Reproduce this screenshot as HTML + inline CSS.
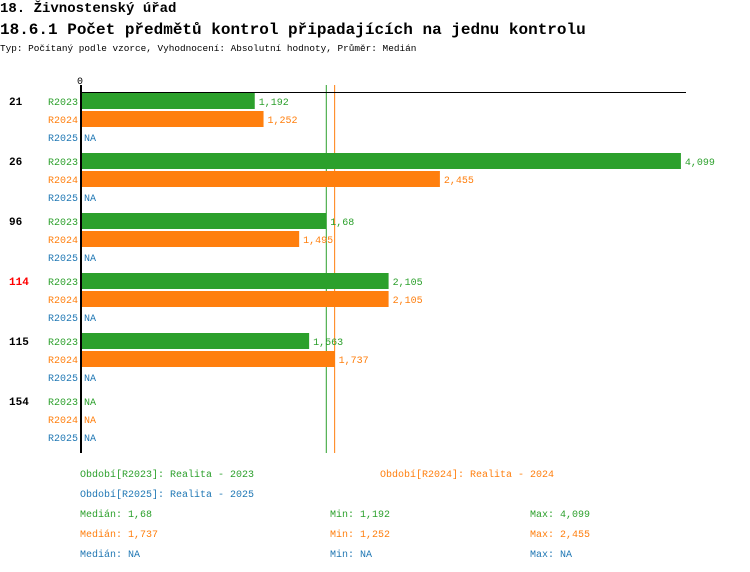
<!DOCTYPE html>
<html><head><meta charset="utf-8"><style>
body{margin:0;background:#fff;width:750px;height:572px;overflow:hidden;font-family:"Liberation Mono",monospace}
.t{position:absolute;white-space:nowrap}
</style></head><body>
<div class="t" style="left:0;top:0;font-size:14px;font-weight:bold;line-height:18px">18. Živnostenský úřad</div>
<div class="t" style="left:0;top:20px;font-size:16px;font-weight:bold;line-height:20px">18.6.1 Počet předmětů kontrol připadajících na jednu kontrolu</div>
<div class="t" style="left:0;top:43px;font-size:9.4px;line-height:12px">Typ: Počítaný podle vzorce, Vyhodnocení: Absolutní hodnoty, Průměr: Medián</div>
<svg id="c" width="750" height="572" style="position:absolute;left:0;top:0" font-family="Liberation Mono, monospace"></svg>
<script>
const groups=["21","26","96","114","115","154"];
const seriesNames=["R2023","R2024","R2025"];
const r2023=[1.192,4.099,1.68,2.105,1.563,null];
const r2024=[1.252,2.455,1.495,2.105,1.737,null];
const r2025=[null,null,null,null,null,null];
const medians=[1.68,1.737];
const colors=["#2ca02c","#ff7f0e","#1f77b4"];
const svg=document.getElementById('c');
const NS='http://www.w3.org/2000/svg';
const x=v=>80+v*146.6;
const y=(g,r)=>101+g*60+r*18;
function mk(t,a,txt){const e=document.createElementNS(NS,t);for(const k in a)e.setAttribute(k,a[k]);if(txt!=null)e.textContent=txt;svg.appendChild(e);return e;}
const fmt=v=>v==null?"NA":String(v).replace('.',',');
const all=[r2023,r2024,r2025];
let e=mk('text',{x:80,y:84,'font-size':10,'text-anchor':'middle'},'0');


medians.forEach((m,i)=>{
 let l=mk('line',{x1:x(m),x2:x(m),y1:85,y2:453,stroke:colors[i],'stroke-width':1});
 
 
});
groups.forEach((g,gi)=>{
 let t=mk('text',{x:9,y:y(gi,0)+4,'font-size':11,'font-weight':'bold',fill:g==="114"?"#ff0000":"#000"},g);
 
 
 all.forEach((s,si)=>{
  const cy=y(gi,si);
  let l=mk('text',{x:78,y:cy+4,'font-size':10,'text-anchor':'end',fill:colors[si]},seriesNames[si]);
  
  
  const v=s[gi];
  let xe=82;
  if(v!=null){
   let b=mk('rect',{x:82,y:cy-8,width:x(v)-82,height:16,fill:colors[si]});
   
   
   xe=x(v)+2;
  }
  let vt=mk('text',{x:xe+2,y:cy+4,'font-size':10,fill:colors[si]},fmt(v));
  
  
 });
});
e=mk('line',{x1:80,x2:686,y1:92.5,y2:92.5,stroke:'#000','stroke-width':1});


e=mk('line',{x1:81,x2:81,y1:85,y2:453,stroke:'#000','stroke-width':2});


const foot=[
 [80,477,0,"Období[R2023]: Realita - 2023"],[380,477,1,"Období[R2024]: Realita - 2024"],
 [80,497,2,"Období[R2025]: Realita - 2025"],
 [80,517,0,"Medián: 1,68"],[330,517,0,"Min: 1,192"],[530,517,0,"Max: 4,099"],
 [80,537,1,"Medián: 1,737"],[330,537,1,"Min: 1,252"],[530,537,1,"Max: 2,455"],
 [80,557,2,"Medián: NA"],[330,557,2,"Min: NA"],[530,557,2,"Max: NA"]];
foot.forEach(f=>{
 let t=mk('text',{x:f[0],y:f[1],'font-size':10,fill:colors[f[2]]},f[3]);
 
 
});
</script>
</body></html>
